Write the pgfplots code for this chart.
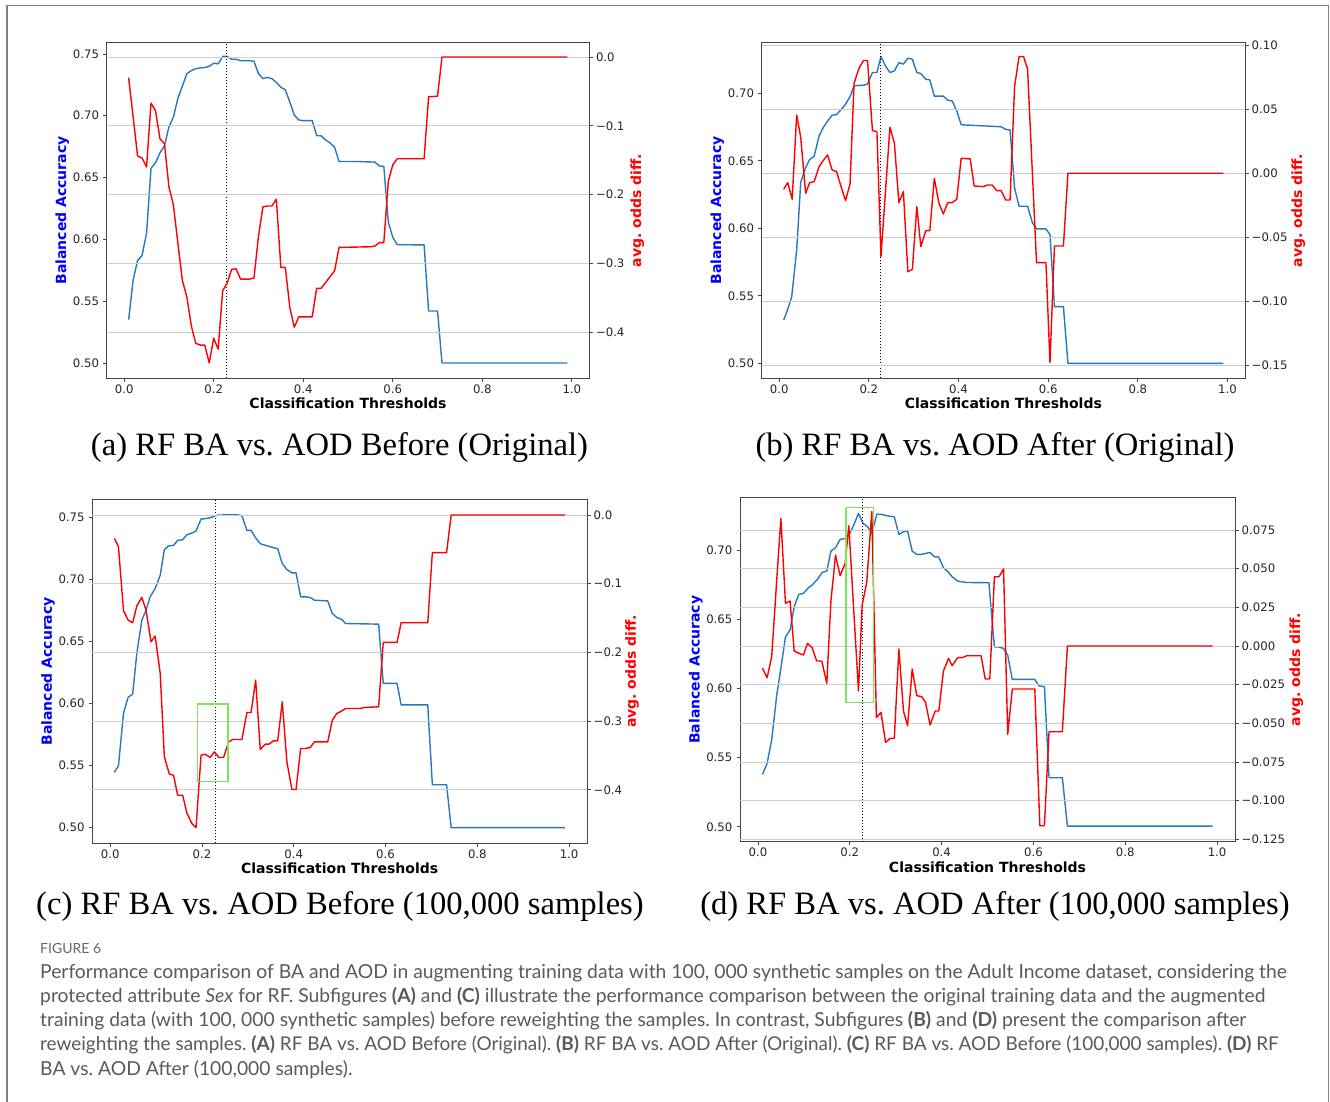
\documentclass[border=0pt]{standalone}
\usepackage{fontspec}
\setmainfont{Liberation Serif}
\newfontfamily\dejavu{DejaVu Sans}
\newfontfamily\lato{Lato}
\usepackage{pgfplots}
\pgfplotsset{compat=1.18}
\definecolor{mblue}{RGB}{40,120,190}
\definecolor{mred}{RGB}{255,0,0}
\definecolor{gridc}{RGB}{205,205,205}
\definecolor{spine}{RGB}{70,70,70}
\definecolor{lgreen}{RGB}{120,232,90}
\definecolor{capgray}{RGB}{90,90,90}
\definecolor{frame}{RGB}{130,130,130}
\newcommand{\labfont}{\dejavu\bfseries\fontsize{14}{14}\selectfont}
\frenchspacing

\pgfplotsset{
  common/.style={
    scale only axis, anchor=south west,
    xmin=-0.039, xmax=1.039,
    tick align=outside, major tick length=3.5pt,
    every tick/.style={spine, line width=0.8pt},
    axis line style={spine, line width=1pt},
    tick label style={font=\dejavu\fontsize{11.7}{12}\selectfont, text=black!85},
  },
  leftax/.style={common,
    xtick={0,0.2,0.4,0.6,0.8,1.0},
    xticklabels={0.0,0.2,0.4,0.6,0.8,1.0},
    xtick pos=left, ytick pos=left,
    xticklabel style={anchor=north, inner sep=0pt, yshift=-2.7pt},
    yticklabel style={anchor=east, inner sep=0pt, xshift=-4pt},
    xlabel={Classification Thresholds},
    every axis x label/.style={at={(axis description cs:0.5,0)}, anchor=base, yshift=-30.7pt, font=\labfont, text=black},
    ylabel={Balanced Accuracy},
  },
  rightax/.style={common,
    axis x line=none, axis y line*=right,
    ymajorgrids, major grid style={gridc, line width=0.9pt},
    yticklabel style={anchor=west, inner sep=0pt, xshift=3pt},
    ylabel={avg. odds diff.},
  },
  ylabl/.style={every axis y label/.style={at={(axis description cs:#1,0.5)}, rotate=90, anchor=base, inner sep=0pt, font=\labfont, text=blue}},
  ylabr/.style={every axis y label/.style={at={(axis description cs:#1,0.5)}, rotate=90, anchor=base, inner sep=0pt, font=\labfont, text=mred}},
  bl/.style={mblue, line width=1.4pt, line join=round},
  rd/.style={mred, line width=1.4pt, line join=round},
}

\begin{document}
\begin{tikzpicture}[x=1pt,y=1pt]
\useasboundingbox (0,0) rectangle (1330pt,1102pt);
\fill[white] (0,0) rectangle (1330pt,1102pt);
\draw[frame, line width=1.2pt] (7pt,-10pt) -- (7pt,1096.3pt) -- (1328.5pt,1096.3pt) -- (1328.5pt,-10pt);

% ================= (a) =================
\begin{axis}[leftax, at={(106.7pt,723.7pt)}, width=482.6pt, height=335.6pt,
  ymin=0.4876, ymax=0.7591,
  ytick={0.5,0.55,0.6,0.65,0.7,0.75}, yticklabels={0.50,0.55,0.60,0.65,0.70,0.75},
  ylabl=-0.0839]
\addplot[bl] coordinates {(0.01,0.535)(0.02,0.567)(0.03,0.583)(0.04,0.587)(0.05,0.605)(0.06,0.6575)(0.07,0.662)(0.08,0.670)(0.09,0.6756)(0.10,0.691)(0.11,0.699)(0.12,0.714)(0.13,0.724)(0.14,0.734)(0.15,0.7365)(0.16,0.738)(0.17,0.7387)(0.18,0.739)(0.19,0.740)(0.20,0.7425)(0.21,0.742)(0.22,0.748)(0.23,0.748)(0.24,0.7457)(0.25,0.7457)(0.26,0.7446)(0.27,0.7446)(0.28,0.7446)(0.29,0.744)(0.30,0.734)(0.31,0.730)(0.32,0.731)(0.33,0.730)(0.34,0.727)(0.35,0.723)(0.36,0.721)(0.37,0.711)(0.38,0.7006)(0.39,0.6966)(0.40,0.696)(0.41,0.696)(0.42,0.696)(0.43,0.684)(0.44,0.6837)(0.45,0.6804)(0.46,0.678)(0.47,0.6745)(0.48,0.663)(0.52,0.663)(0.56,0.6625)(0.57,0.6594)(0.58,0.659)(0.59,0.614)(0.60,0.6017)(0.61,0.5957)(0.67,0.5955)(0.68,0.542)(0.70,0.542)(0.71,0.500)(0.99,0.500)};
\addplot[black, dotted, line width=1pt] coordinates {(0.228,0.4876)(0.228,0.7591)};
\end{axis}
\begin{axis}[rightax, at={(106.7pt,723.7pt)}, width=482.6pt, height=335.6pt,
  ymin=-0.4673, ymax=0.0208,
  ytick={-0.4,-0.3,-0.2,-0.1,0}, yticklabels={−0.4,−0.3,−0.2,−0.1,0.0},
  ylabr=1.1073]
\addplot[rd] coordinates {(0.01,-0.030)(0.02,-0.087)(0.03,-0.144)(0.04,-0.147)(0.05,-0.160)(0.06,-0.067)(0.07,-0.078)(0.08,-0.119)(0.09,-0.126)(0.10,-0.189)(0.11,-0.215)(0.12,-0.271)(0.13,-0.325)(0.14,-0.349)(0.15,-0.391)(0.16,-0.4165)(0.17,-0.419)(0.18,-0.419)(0.19,-0.445)(0.20,-0.409)(0.21,-0.425)(0.22,-0.340)(0.23,-0.329)(0.24,-0.309)(0.25,-0.308)(0.26,-0.323)(0.27,-0.323)(0.28,-0.323)(0.29,-0.3215)(0.30,-0.261)(0.31,-0.218)(0.32,-0.2167)(0.33,-0.2167)(0.34,-0.207)(0.35,-0.306)(0.36,-0.306)(0.37,-0.364)(0.38,-0.393)(0.39,-0.378)(0.42,-0.378)(0.43,-0.3365)(0.44,-0.3365)(0.45,-0.328)(0.46,-0.3195)(0.47,-0.311)(0.48,-0.277)(0.55,-0.276)(0.56,-0.275)(0.57,-0.270)(0.58,-0.270)(0.59,-0.181)(0.60,-0.157)(0.61,-0.148)(0.67,-0.148)(0.68,-0.058)(0.70,-0.057)(0.71,0.0)(0.99,0.0)};
\end{axis}

% ================= (b) =================
\begin{axis}[leftax, at={(761.7pt,723.7pt)}, width=483.3pt, height=335.6pt,
  ymin=0.4889, ymax=0.7376,
  ytick={0.5,0.55,0.6,0.65,0.7}, yticklabels={0.50,0.55,0.60,0.65,0.70},
  ylabl=-0.0838]
\addplot[bl] coordinates {(0.010,0.532)(0.019,0.540)(0.028,0.5495)(0.039,0.584)(0.048,0.634)(0.059,0.645)(0.068,0.651)(0.078,0.6535)(0.089,0.6684)(0.098,0.6746)(0.108,0.6795)(0.118,0.6838)(0.128,0.6843)(0.138,0.688)(0.148,0.692)(0.158,0.6976)(0.167,0.7056)(0.178,0.706)(0.188,0.706)(0.197,0.707)(0.208,0.7155)(0.218,0.7155)(0.227,0.7273)(0.237,0.7204)(0.247,0.7155)(0.257,0.7167)(0.267,0.7229)(0.277,0.7217)(0.287,0.7261)(0.297,0.7254)(0.307,0.7155)(0.316,0.7147)(0.327,0.7105)(0.336,0.710)(0.346,0.698)(0.366,0.698)(0.376,0.695)(0.386,0.6944)(0.396,0.687)(0.406,0.6768)(0.416,0.6766)(0.495,0.6753)(0.505,0.6734)(0.515,0.6729)(0.525,0.630)(0.535,0.6164)(0.554,0.6164)(0.565,0.604)(0.574,0.5996)(0.595,0.5996)(0.604,0.5953)(0.614,0.542)(0.634,0.542)(0.644,0.500)(0.991,0.500)};
\addplot[black, dotted, line width=1pt] coordinates {(0.227,0.4889)(0.227,0.7376)};
\end{axis}
\begin{axis}[rightax, at={(761.7pt,723.7pt)}, width=483.3pt, height=335.6pt,
  ymin=-0.1598, ymax=0.1018,
  ytick={-0.15,-0.1,-0.05,0,0.05,0.1}, yticklabels={−0.15,−0.10,−0.05,0.00,0.05,0.10},
  ylabr=1.118]
\addplot[rd] coordinates {(0.010,-0.0125)(0.019,-0.0073)(0.029,-0.0203)(0.039,0.0455)(0.048,0.0281)(0.059,-0.0156)(0.068,-0.0073)(0.078,-0.0065)(0.089,0.0052)(0.098,0.0099)(0.108,0.0143)(0.118,0.0026)(0.128,0.0013)(0.138,-0.0104)(0.148,-0.0213)(0.158,-0.0083)(0.167,0.0702)(0.178,0.0819)(0.188,0.0879)(0.197,0.0879)(0.208,0.0333)(0.218,0.0325)(0.227,-0.065)(0.247,0.0359)(0.257,0.0234)(0.267,-0.0229)(0.277,-0.0143)(0.287,-0.0767)(0.297,-0.0749)(0.307,-0.026)(0.316,-0.0572)(0.327,-0.0447)(0.336,-0.0447)(0.346,-0.0039)(0.356,-0.0229)(0.366,-0.0317)(0.376,-0.0229)(0.386,-0.0229)(0.396,-0.0203)(0.406,0.0117)(0.426,0.0112)(0.435,-0.0099)(0.455,-0.0104)(0.465,-0.0091)(0.475,-0.0091)(0.485,-0.0135)(0.495,-0.0135)(0.505,-0.0208)(0.515,-0.0208)(0.525,0.0676)(0.535,0.091)(0.545,0.091)(0.554,0.0811)(0.574,-0.0697)(0.595,-0.0697)(0.604,-0.1477)(0.614,-0.0567)(0.634,-0.0567)(0.644,0.0)(0.991,0.0)};
\end{axis}

% ================= (c) =================
\begin{axis}[leftax, at={(92.3pt,258.7pt)}, width=494.7pt, height=344pt,
  ymin=0.4874, ymax=0.7646,
  ytick={0.5,0.55,0.6,0.65,0.7,0.75}, yticklabels={0.50,0.55,0.60,0.65,0.70,0.75},
  ylabl=-0.0819]
\addplot[bl] coordinates {(0.009,0.5445)(0.018,0.5498)(0.029,0.5922)(0.039,0.605)(0.049,0.6077)(0.058,0.6404)(0.069,0.6672)(0.078,0.6752)(0.087,0.686)(0.098,0.6927)(0.109,0.7034)(0.118,0.724)(0.127,0.727)(0.138,0.7275)(0.147,0.7315)(0.158,0.732)(0.167,0.736)(0.178,0.7374)(0.187,0.739)(0.198,0.7487)(0.207,0.749)(0.218,0.7497)(0.229,0.7513)(0.237,0.7519)(0.247,0.752)(0.258,0.752)(0.278,0.752)(0.287,0.7513)(0.298,0.7395)(0.307,0.7395)(0.316,0.734)(0.327,0.7288)(0.338,0.7275)(0.346,0.7267)(0.356,0.7256)(0.365,0.7248)(0.375,0.7127)(0.385,0.708)(0.396,0.7053)(0.405,0.7053)(0.415,0.686)(0.425,0.686)(0.436,0.6854)(0.445,0.6833)(0.474,0.6827)(0.484,0.6726)(0.494,0.6693)(0.505,0.6677)(0.513,0.6645)(0.585,0.664)(0.595,0.6163)(0.625,0.6163)(0.634,0.5989)(0.692,0.5989)(0.702,0.5346)(0.733,0.5346)(0.743,0.50)(0.991,0.50)};
\addplot[black, dotted, line width=1pt] coordinates {(0.229,0.4874)(0.229,0.7646)};
\end{axis}
\begin{axis}[rightax, at={(92.3pt,258.7pt)}, width=494.7pt, height=344pt,
  ymin=-0.4777, ymax=0.0228,
  ytick={-0.4,-0.3,-0.2,-0.1,0}, yticklabels={−0.4,−0.3,−0.2,−0.1,0.0},
  ylabr=1.099]
\addplot[rd] coordinates {(0.009,-0.034)(0.018,-0.0461)(0.029,-0.1393)(0.039,-0.1529)(0.049,-0.1568)(0.058,-0.1325)(0.069,-0.1199)(0.078,-0.1383)(0.089,-0.1845)(0.098,-0.1762)(0.109,-0.2306)(0.118,-0.352)(0.129,-0.3772)(0.138,-0.3786)(0.147,-0.4078)(0.158,-0.4078)(0.167,-0.4335)(0.178,-0.449)(0.187,-0.4549)(0.198,-0.3495)(0.207,-0.348)(0.218,-0.3529)(0.227,-0.3447)(0.237,-0.3529)(0.247,-0.3529)(0.258,-0.3301)(0.267,-0.3267)(0.287,-0.3267)(0.298,-0.2874)(0.307,-0.2874)(0.317,-0.2403)(0.327,-0.3413)(0.338,-0.3335)(0.346,-0.3335)(0.356,-0.3286)(0.365,-0.3286)(0.375,-0.2718)(0.385,-0.3592)(0.396,-0.3995)(0.405,-0.3995)(0.415,-0.3398)(0.425,-0.3398)(0.436,-0.3383)(0.445,-0.3301)(0.474,-0.3301)(0.484,-0.2985)(0.494,-0.2888)(0.505,-0.285)(0.513,-0.2816)(0.545,-0.2816)(0.554,-0.2801)(0.585,-0.2791)(0.595,-0.1854)(0.625,-0.1854)(0.634,-0.1568)(0.692,-0.1568)(0.702,-0.0549)(0.733,-0.0549)(0.743,0.0)(0.991,0.0)};
\addplot[lgreen, line width=1.3pt] coordinates {(0.1895,-0.2752)(0.2564,-0.2752)(0.2564,-0.3879)(0.1895,-0.3879)(0.1895,-0.2752)};
\end{axis}

% ================= (d) =================
\begin{axis}[leftax, at={(740pt,260.3pt)}, width=495pt, height=344pt,
  ymin=0.4892, ymax=0.7379,
  ytick={0.5,0.55,0.6,0.65,0.7}, yticklabels={0.50,0.55,0.60,0.65,0.70},
  ylabl=-0.0818]
\addplot[bl] coordinates {(0.010,0.5378)(0.020,0.5458)(0.030,0.5627)(0.041,0.5952)(0.050,0.6145)(0.060,0.6373)(0.070,0.6422)(0.079,0.659)(0.089,0.668)(0.099,0.6687)(0.110,0.6728)(0.118,0.6747)(0.130,0.679)(0.140,0.6839)(0.150,0.6848)(0.159,0.6993)(0.169,0.7017)(0.179,0.7077)(0.190,0.7084)(0.198,0.7108)(0.208,0.7176)(0.219,0.7265)(0.229,0.7193)(0.239,0.7169)(0.248,0.712)(0.259,0.726)(0.269,0.7258)(0.285,0.7246)(0.297,0.7241)(0.307,0.7113)(0.317,0.7133)(0.326,0.7137)(0.336,0.6993)(0.346,0.6969)(0.355,0.6969)(0.365,0.6976)(0.375,0.6983)(0.384,0.6952)(0.394,0.695)(0.404,0.6872)(0.415,0.6839)(0.423,0.6807)(0.435,0.6776)(0.444,0.6771)(0.455,0.6766)(0.503,0.6764)(0.515,0.6301)(0.524,0.6301)(0.535,0.6289)(0.544,0.6241)(0.554,0.6065)(0.603,0.6065)(0.612,0.6019)(0.624,0.6012)(0.634,0.5354)(0.663,0.5354)(0.674,0.5005)(0.990,0.5005)};
\addplot[black, dotted, line width=1pt] coordinates {(0.228,0.4892)(0.228,0.7379)};
\end{axis}
\begin{axis}[rightax, at={(740pt,260.3pt)}, width=495pt, height=344pt,
  ymin=-0.1265, ymax=0.0959,
  ytick={-0.125,-0.1,-0.075,-0.05,-0.025,0,0.025,0.05,0.075}, yticklabels={−0.125,−0.100,−0.075,−0.050,−0.025,0.000,0.025,0.050,0.075},
  ylabr=1.1313]
\addplot[rd] coordinates {(0.010,-0.0144)(0.020,-0.0205)(0.030,-0.0069)(0.041,0.0427)(0.050,0.0825)(0.060,0.0276)(0.070,0.0291)(0.079,-0.0032)(0.089,-0.0047)(0.099,-0.0058)(0.108,0.0017)(0.118,-0.0011)(0.128,-0.0097)(0.139,-0.0097)(0.150,-0.0241)(0.159,0.0291)(0.169,0.0588)(0.179,0.0455)(0.190,0.0534)(0.198,0.0778)(0.208,0.0265)(0.219,-0.0291)(0.227,0.0265)(0.237,0.0412)(0.248,0.0869)(0.258,-0.0463)(0.268,-0.0429)(0.278,-0.0623)(0.288,-0.0597)(0.297,-0.0597)(0.307,-0.0019)(0.317,-0.042)(0.326,-0.0515)(0.336,-0.0149)(0.346,-0.0321)(0.357,-0.0328)(0.365,-0.0364)(0.375,-0.0511)(0.386,-0.042)(0.394,-0.042)(0.404,-0.0162)(0.415,-0.008)(0.423,-0.0127)(0.435,-0.0075)(0.445,-0.0075)(0.455,-0.0063)(0.486,-0.0063)(0.495,-0.0213)(0.505,-0.0213)(0.515,0.0448)(0.525,0.0448)(0.535,0.0498)(0.544,-0.0571)(0.554,-0.0278)(0.603,-0.0278)(0.614,-0.1162)(0.624,-0.1162)(0.634,-0.0554)(0.663,-0.0554)(0.674,0.0)(0.990,0.0)};
\addplot[lgreen, line width=1.3pt] coordinates {(0.1917,0.0894)(0.2513,0.0894)(0.2513,-0.0364)(0.1917,-0.0364)(0.1917,0.0894)};
\end{axis}

% ================= sub-captions =================
\begin{scope}[every node/.style={anchor=base, inner sep=0pt, font=\fontsize{32.6}{34}\selectfont}]
\node at (339.5pt,646.3pt) {(a) RF BA vs.\ AOD Before (Original)};
\node at (995pt,646.3pt) {(b) RF BA vs.\ AOD After (Original)};
\node at (340pt,187pt) {(c) RF BA vs.\ AOD Before (100,000 samples)};
\node at (995pt,187pt) {(d) RF BA vs.\ AOD After (100,000 samples)};
\end{scope}

% ================= figure caption =================
\node[anchor=base west, inner sep=0pt, text=black!60, font=\lato\fontsize{14}{14}\selectfont] at (40pt,148pt) {FIGURE 6};
\begin{scope}[every node/.style={anchor=base west, inner sep=0pt, text=capgray, font=\lato\fontsize{19.3}{20}\selectfont}]
\node at (40pt,123.7pt) {Performance comparison of BA and AOD in augmenting training data with 100, 000 synthetic samples on the Adult Income dataset, considering the};
\node at (40pt,99.5pt) {protected attribute \textit{Sex} for RF. Subfigures \textbf{(A)} and \textbf{(C)} illustrate the performance comparison between the original training data and the augmented};
\node at (40pt,75.3pt) {training data (with 100, 000 synthetic samples) before reweighting the samples. In contrast, Subfigures \textbf{(B)} and \textbf{(D)} present the comparison after};
\node[font=\lato\fontsize{18.97}{20}\selectfont] at (40pt,51.1pt) {reweighting the samples. \textbf{(A)} RF BA vs. AOD Before (Original). \textbf{(B)} RF BA vs. AOD After (Original). \textbf{(C)} RF BA vs. AOD Before (100,000 samples). \textbf{(D)} RF};
\node at (40pt,26.9pt) {BA vs. AOD After (100,000 samples).};
\end{scope}
\end{tikzpicture}
\end{document}
